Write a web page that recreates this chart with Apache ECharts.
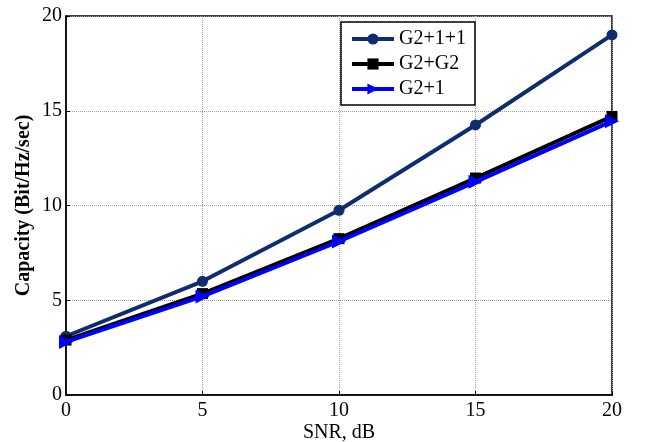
<!DOCTYPE html>
<html>
<head>
<meta charset="utf-8">
<script src="https://cdn.jsdelivr.net/npm/echarts@6/dist/echarts.min.js"></script>
<style>
  html, body { margin: 0; padding: 0; background: #fff; }
  #chart { width: 647px; height: 442px; }
</style>
</head>
<body>
<div id="chart"></div>
<script>
// data
var snr = [0, 5, 10, 15, 20];
var g211 = [3.1, 6.0, 9.75, 14.25, 19.0];
var g2g2 = [2.9, 5.35, 8.25, 11.45, 14.7];
var g21 = [2.8, 5.2, 8.1, 11.25, 14.45];
var seriesNames = ['G2+1+1', 'G2+G2', 'G2+1'];

function pairs(ys) {
  return snr.map(function (x, i) { return [x, ys[i]]; });
}

var font = 'Liberation Serif';
var navy = '#0f2d6e';
var chart = echarts.init(document.getElementById('chart'));

var axisCommon = {
  type: 'value',
  min: 0,
  max: 20,
  interval: 5,
  nameMoveOverlap: false,
  axisLine: { show: true, lineStyle: { color: '#000', width: 1.5 } },
  axisTick: { show: true, inside: true, length: 4, lineStyle: { color: '#000' } },
  splitLine: { show: true, lineStyle: { color: '#a0a0a0', type: 'dotted', width: 1 } },
  axisLabel: { color: '#000', fontFamily: font, fontSize: 20 },
  nameTextStyle: { color: '#000', fontFamily: font, fontSize: 20 }
};

chart.setOption({
  animation: false,
  backgroundColor: '#fff',
  grid: {
    left: 66, right: 35, top: 16, bottom: 47,
    containLabel: false,
    outerBoundsMode: 'none',
    show: true, borderColor: '#000', borderWidth: 1.5
  },
  legend: {
    data: seriesNames,
    left: 341, top: 22,
    orient: 'vertical',
    itemWidth: 42, itemHeight: 14, itemGap: 5,
    padding: [7, 9, 6, 9],
    backgroundColor: '#fff',
    borderColor: '#000', borderWidth: 1.5, borderRadius: 0,
    lineStyle: { width: 4 },
    textStyle: { color: '#000', fontFamily: font, fontSize: 20 }
  },
  xAxis: Object.assign({}, axisCommon, {
    name: 'SNR, dB',
    nameLocation: 'middle',
    nameGap: 28,
    axisLabel: Object.assign({}, axisCommon.axisLabel, { margin: 6 })
  }),
  yAxis: Object.assign({}, axisCommon, {
    name: 'Capacity (Bit/Hz/sec)',
    nameLocation: 'middle',
    nameGap: 32,
    nameTextStyle: { color: '#000', fontFamily: font, fontSize: 20, fontWeight: 'bold' },
    axisLabel: Object.assign({}, axisCommon.axisLabel, { margin: 4 })
  }),
  series: [
    {
      name: seriesNames[0], type: 'line', data: pairs(g211),
      symbol: 'circle', symbolSize: 11,
      lineStyle: { color: navy, width: 4 },
      itemStyle: { color: navy },
      z: 3
    },
    {
      name: seriesNames[1], type: 'line', data: pairs(g2g2),
      symbol: 'rect', symbolSize: 11,
      lineStyle: { color: '#000', width: 4 },
      itemStyle: { color: '#000' },
      z: 4
    },
    {
      name: seriesNames[2], type: 'line', data: pairs(g21),
      symbol: 'triangle', symbolSize: 14, symbolRotate: -90,
      lineStyle: { color: '#0000ff', width: 4 },
      itemStyle: { color: '#0000ff' },
      z: 5
    }
  ]
});
</script>
</body>
</html>
